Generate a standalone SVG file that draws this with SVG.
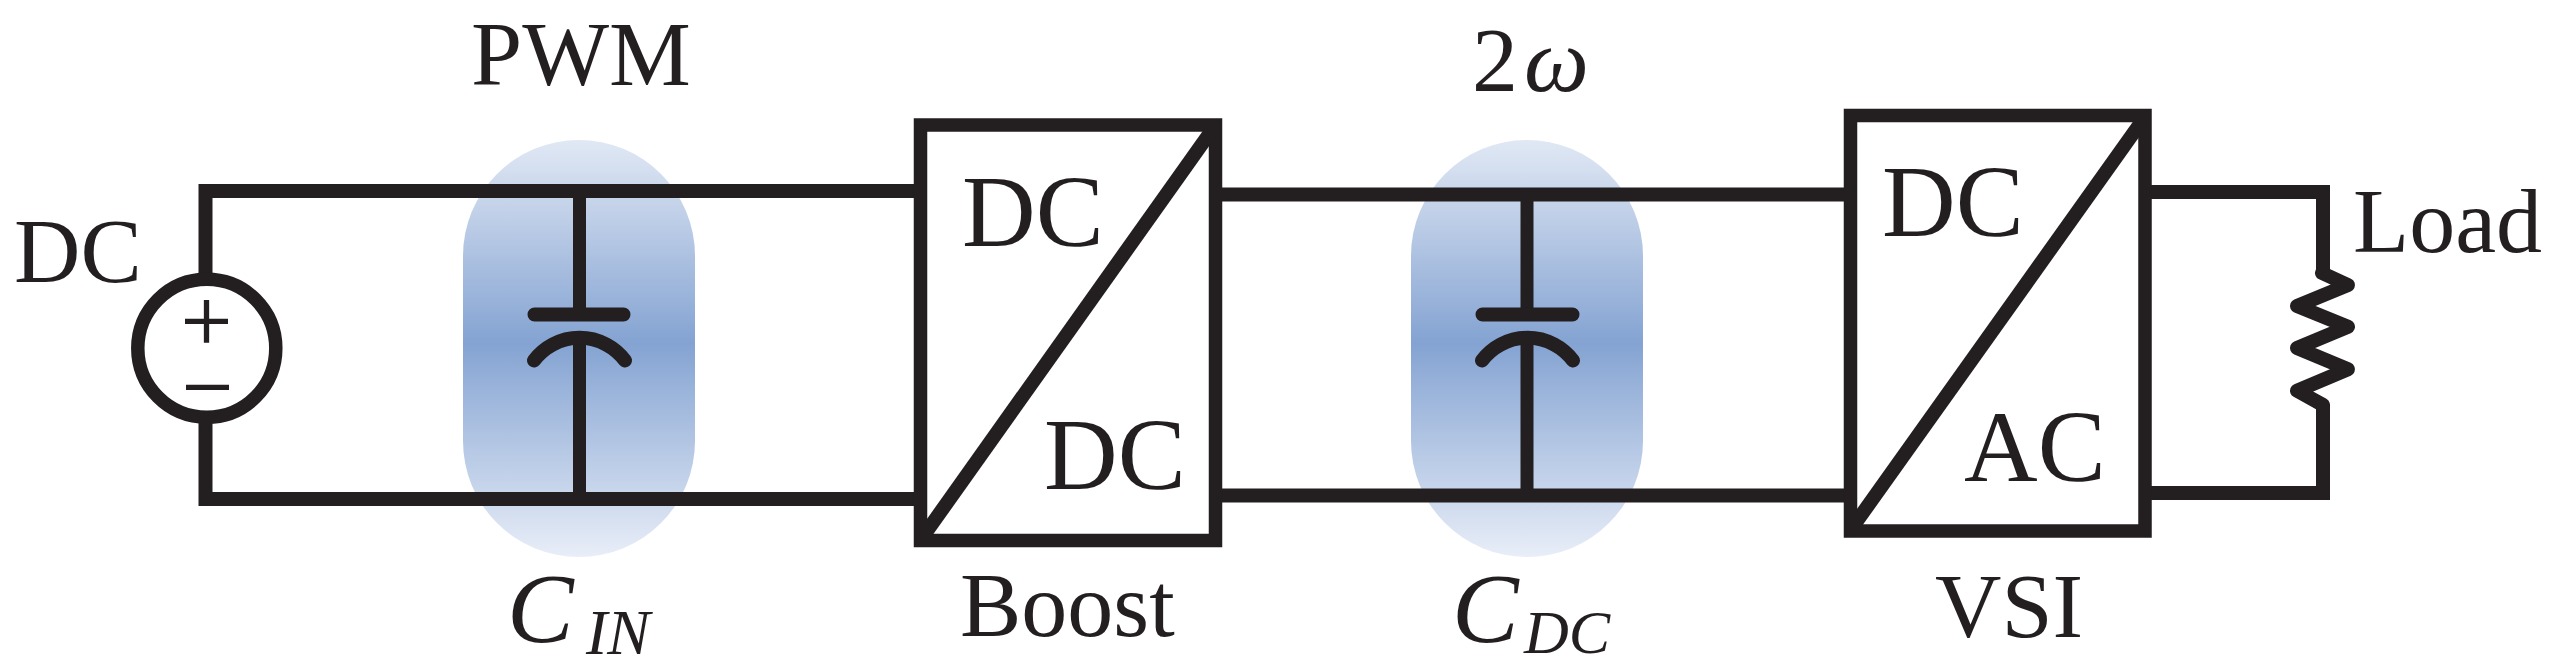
<svg xmlns="http://www.w3.org/2000/svg" width="2558" height="668" viewBox="0 0 2558 668">
<style>
.w{fill:none;stroke:#231f20;stroke-width:14;stroke-linejoin:miter;stroke-linecap:butt}
.v{fill:none;stroke:#231f20;stroke-width:13}
.r{fill:none;stroke:#231f20;stroke-width:14;stroke-linecap:round;stroke-linejoin:round}
.d{fill:none;stroke:#231f20;stroke-width:14}
.box{fill:none;stroke:#231f20;stroke-width:13.5;stroke-linejoin:miter}
.t{font-family:"Liberation Serif",serif;font-size:92px;fill:#231f20}
.b{font-size:102px}
.i{font-style:italic}
.s{font-size:62px}
</style>
<defs>
<linearGradient id="g" x1="0" y1="0" x2="0" y2="1">
<stop offset="0" stop-color="#e0e8f4"/>
<stop offset="0.15" stop-color="#c6d4ea"/>
<stop offset="0.487" stop-color="#84a3d2"/>
<stop offset="0.82" stop-color="#c4d3ea"/>
<stop offset="1" stop-color="#e9eef8"/>
</linearGradient>
</defs>
<g id="blob-cin"><rect x="463" y="140" width="232" height="417" rx="116" ry="116" fill="url(#g)"/></g>
<g id="blob-cdc"><rect x="1411" y="140" width="232" height="417" rx="116" ry="116" fill="url(#g)"/></g>
<g id="connectors">
<path class="w" d="M916 191H205.500V280M205.500 416V499H916"/>
<path class="w" d="M1220 194.500H1846M1220 495.500H1846"/>
<path class="w" d="M2149 192H2323V273M2323 404V493H2149"/>
<path class="v" d="M579.500 197V310M579.500 335V493M1527 200V310M1527 335V490"/>
</g>
<g id="source">
<circle cx="206.800" cy="348.300" r="69" fill="#fff" stroke="#231f20" stroke-width="13.500"/>
<path d="M185 321.300H228M206.500 300V342.700M186 387.300H229" fill="none" stroke="#231f20" stroke-width="5.300"/>
<text class="t" x="14" y="282">DC</text>
</g>
<g id="cap-in">
<path class="r" d="M534.500 314.500H623.500M534 360.500A57 57 0 0 1 625 360.500"/>
<text class="t" x="471" y="84.500">PWM</text>
<text class="t i b" x="507" y="642" style="font-size:100px">C</text>
<text class="t i s" x="586" y="654" style="font-size:64px">IN</text>
</g>
<g id="boost">
<rect class="box" x="920.500" y="125" width="295" height="415.500"/>
<path class="d" d="M1212 130L922 538"/>
<text class="t b" x="962" y="246">DC</text>
<text class="t b" x="1044" y="489">DC</text>
<text class="t" x="960" y="636">Boost</text>
</g>
<g id="cap-dc">
<path class="r" d="M1482.500 314.500H1572.500M1482 360.500A57 57 0 0 1 1573 360.500"/>
<text class="t" x="1472" y="91">2<tspan class="i" dx="6">ω</tspan></text>
<text class="t i b" x="1452" y="642" style="font-size:100px">C</text>
<text class="t i s" x="1524" y="653">DC</text>
</g>
<g id="vsi">
<rect class="box" x="1850.500" y="115.500" width="294.500" height="415.500"/>
<path class="d" d="M2142 121L1852 528"/>
<text class="t b" x="1882" y="235.500">DC</text>
<text class="t b" x="1964" y="480.500">AC</text>
<text class="t" x="1935" y="637">VSI</text>
</g>
<g id="load">
<path class="r" d="M2322 273L2348 285L2297 306L2348 326.700L2297 348L2348 369.300L2297 390.700L2323 405"/>
<text class="t" x="2353" y="251.500">Load</text>
</g>
</svg>
